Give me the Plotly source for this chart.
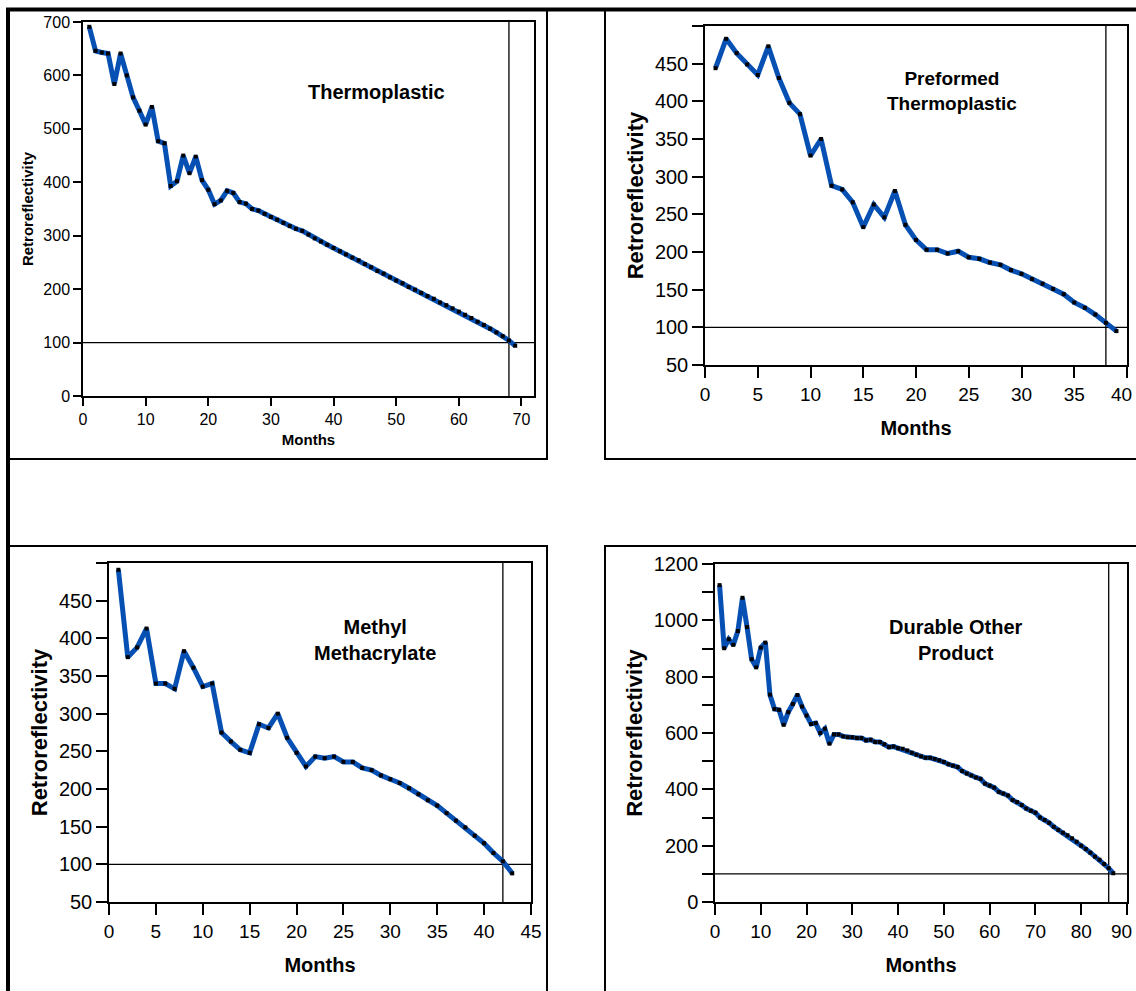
import plotly.graph_objects as go

# ---------------- data ----------------
thermo_months = list(range(1, 70))
thermo_values = [691, 646, 643, 641, 584, 641, 600, 559, 534, 508,
                 541, 477, 473, 393, 402, 450, 417, 448, 404, 386,
                 359, 366, 384, 380, 363, 360, 350, 347, 341, 335,
                 330, 324, 318, 313, 309, 302, 295, 289, 283, 277,
                 271, 265, 259, 254, 247, 241, 234, 229, 222, 216,
                 211, 204, 199, 193, 187, 182, 175, 170, 164, 158,
                 152, 146, 139, 133, 126, 119, 112, 104, 94]

preformed_months = list(range(1, 40))
preformed_values = [444, 483, 464, 449, 435, 473, 431, 398, 383, 328,
                    350, 288, 283, 266, 233, 263, 246, 281, 236, 216,
                    203, 203, 198, 201, 193, 191, 186, 183, 176, 171,
                    164, 158, 151, 144, 133, 126, 117, 106, 95]

mma_months = list(range(1, 44))
mma_values = [491, 375, 388, 413, 340, 340, 333, 383, 361, 336,
              340, 275, 263, 252, 248, 286, 281, 300, 268, 248,
              230, 243, 241, 243, 236, 236, 228, 225, 218, 213,
              208, 201, 193, 185, 178, 168, 158, 149, 138, 128,
              115, 104, 88]

durable_months = list(range(1, 88))
durable_values = [1125, 901, 933, 913, 962, 1080, 976, 862, 833, 903,
                  921, 736, 685, 682, 629, 674, 703, 735, 694, 662,
                  632, 635, 600, 615, 562, 595, 595, 588, 585, 585,
                  582, 582, 574, 576, 568, 568, 560, 550, 552, 546,
                  544, 538, 530, 523, 517, 512, 512, 508, 503, 497,
                  489, 484, 479, 465, 456, 449, 442, 437, 420, 413,
                  406, 391, 385, 378, 362, 355, 344, 332, 324, 317,
                  300, 291, 281, 267, 256, 246, 237, 226, 214, 200,
                  188, 175, 161, 150, 135, 120, 102]

panel_titles = ["Thermoplastic", "Preformed<br>Thermoplastic",
                "Methyl<br>Methacrylate", "Durable Other<br>Product"]
threshold = 100
end_months = [68, 38, 42, 86]

x_ranges = [[0, 72], [0, 40], [0, 45], [0, 90]]
y_ranges = [[0, 700], [50, 500], [50, 500], [0, 1200]]
x_ticks = [list(range(0, 71, 10)), list(range(0, 41, 5)),
           list(range(0, 46, 5)), list(range(0, 91, 10))]
y_ticks = [list(range(0, 701, 100)), list(range(50, 501, 50)),
           list(range(50, 501, 50)), list(range(0, 1201, 100))]
y_ticktext = [[str(v) for v in y_ticks[0]],
              [str(v) if v < 500 else "" for v in y_ticks[1]],
              [str(v) if v < 500 else "" for v in y_ticks[2]],
              [str(v) if v % 200 == 0 else "" for v in y_ticks[3]]]
# the last x label of the right-hand panels sits on the page edge; as in the
# original it is drawn pulled inside the page (see edge_labels below)
edge_label_panels = [1, 3]
x_ticktext = []
for i, tv in enumerate(x_ticks):
    labels = [str(v) for v in tv]
    if i in edge_label_panels:
        labels[-1] = ""
    x_ticktext.append(labels)

# ---------------- layout geometry (pixels) ----------------
W, H = 1136, 991
def px(x):
    return x / W
def py(y):
    return 1 - y / H

# plot areas: (left, right, top, bottom) in pixels
areas = [(83, 534, 22, 396), (705, 1127, 26, 365),
         (109, 531, 563, 902), (715, 1127, 564, 902)]
ytick_font = [16, 20, 20, 20]
xtick_font = [16, 19, 19, 19]
xtitle_font = [15, 20, 20, 20]
ytitle_font = [15, 22, 22, 22]
xtitle_standoff = [8, 17, 17, 17]
ytitle_standoff = [6, 5, 5, 5]
tick_len = [8, 11, 11, 11]
ann_font = [20, 19, 20, 20]
ann_pos = [(377, 92), (952, 91), (375, 640), (956, 640)]
edge_label_y = {1: 394, 3: 931}

series = [(thermo_months, thermo_values), (preformed_months, preformed_values),
          (mma_months, mma_values), (durable_months, durable_values)]

FONT = "Liberation Sans, Arial, Helvetica, sans-serif"
BLUE = "#0650b4"

fig = go.Figure()
layout = dict(width=W, height=H, margin=dict(l=0, r=0, t=0, b=0, pad=0),
              paper_bgcolor="white", plot_bgcolor="white", showlegend=False,
              font=dict(family=FONT, color="black"))
annotations = []
shapes = []

for i in range(4):
    n = "" if i == 0 else str(i + 1)
    xa, ya = "x" + n, "y" + n
    l, r, t, b = areas[i]
    months, vals = series[i]
    # reference lines
    fig.add_trace(go.Scatter(x=x_ranges[i], y=[threshold, threshold], mode="lines",
                             line=dict(color="black", width=1.3),
                             xaxis=xa, yaxis=ya, hoverinfo="skip"))
    fig.add_trace(go.Scatter(x=[end_months[i], end_months[i]], y=y_ranges[i], mode="lines",
                             line=dict(color="black", width=1.3),
                             xaxis=xa, yaxis=ya, hoverinfo="skip"))
    # data line
    fig.add_trace(go.Scatter(x=months, y=vals, mode="lines+markers",
                             line=dict(color=BLUE, width=5),
                             marker=dict(color="black", size=4, symbol="square"),
                             xaxis=xa, yaxis=ya))
    common = dict(showline=True, linecolor="black", linewidth=1.5, mirror=True,
                  ticks="outside", ticklen=tick_len[i], tickwidth=1.5, tickcolor="black",
                  showgrid=False, zeroline=False, automargin=False,
                  ticklabeloverflow="allow")
    layout["xaxis" + n] = dict(common, domain=[px(l), px(r)], range=x_ranges[i],
                               tickvals=x_ticks[i], ticktext=x_ticktext[i], anchor=ya,
                               tickfont=dict(size=xtick_font[i], family=FONT, color="black"),
                               title=dict(text="<b>Months</b>",
                                          font=dict(size=xtitle_font[i], family=FONT),
                                          standoff=xtitle_standoff[i]))
    layout["yaxis" + n] = dict(common, domain=[py(b), py(t)], range=y_ranges[i],
                               tickvals=y_ticks[i], ticktext=y_ticktext[i], anchor=xa,
                               tickfont=dict(size=ytick_font[i], family=FONT, color="black"),
                               title=dict(text="<b>Retroreflectivity</b>",
                                          font=dict(size=ytitle_font[i], family=FONT),
                                          standoff=ytitle_standoff[i]))
    annotations.append(dict(text="<b>" + panel_titles[i] + "</b>",
                            x=px(ann_pos[i][0]), y=py(ann_pos[i][1]),
                            xref="paper", yref="paper", showarrow=False,
                            xanchor="center", yanchor="middle",
                            font=dict(size=ann_font[i], family=FONT, color="black")))
    if i in edge_label_panels:
        annotations.append(dict(text=str(x_ticks[i][-1]),
                                x=px(1133), y=py(edge_label_y[i]),
                                xref="paper", yref="paper", showarrow=False,
                                xanchor="right", yanchor="middle", borderpad=0,
                                font=dict(size=xtick_font[i], family=FONT, color="black")))

# panel boxes and the outer heavy frame
boxes = [(8, 547, 9, 459), (605, 1200, 9, 459), (8, 547, 546, 1060), (605, 1200, 546, 1060)]
for (x0, x1, y0, y1) in boxes:
    shapes.append(dict(type="rect", xref="paper", yref="paper",
                       x0=px(x0), x1=px(x1), y0=py(y1), y1=py(y0),
                       line=dict(color="black", width=2)))
shapes.append(dict(type="line", xref="paper", yref="paper",
                   x0=px(6), x1=px(1200), y0=py(9.5), y1=py(9.5),
                   line=dict(color="black", width=4)))
shapes.append(dict(type="line", xref="paper", yref="paper",
                   x0=px(8), x1=px(8), y0=py(8), y1=py(1060),
                   line=dict(color="black", width=4)))

layout["annotations"] = annotations
layout["shapes"] = shapes
fig.update_layout(**layout)
fig.write_html("out.html",
               config={"displayModeBar": False, "responsive": False},
               post_script="document.body.style.margin='0';"
                           "document.documentElement.style.overflow='hidden';"
                           "var d=document.querySelector('.plotly-graph-div');"
                           "d.style.position='fixed';d.style.left='0px';d.style.top='0px';")
